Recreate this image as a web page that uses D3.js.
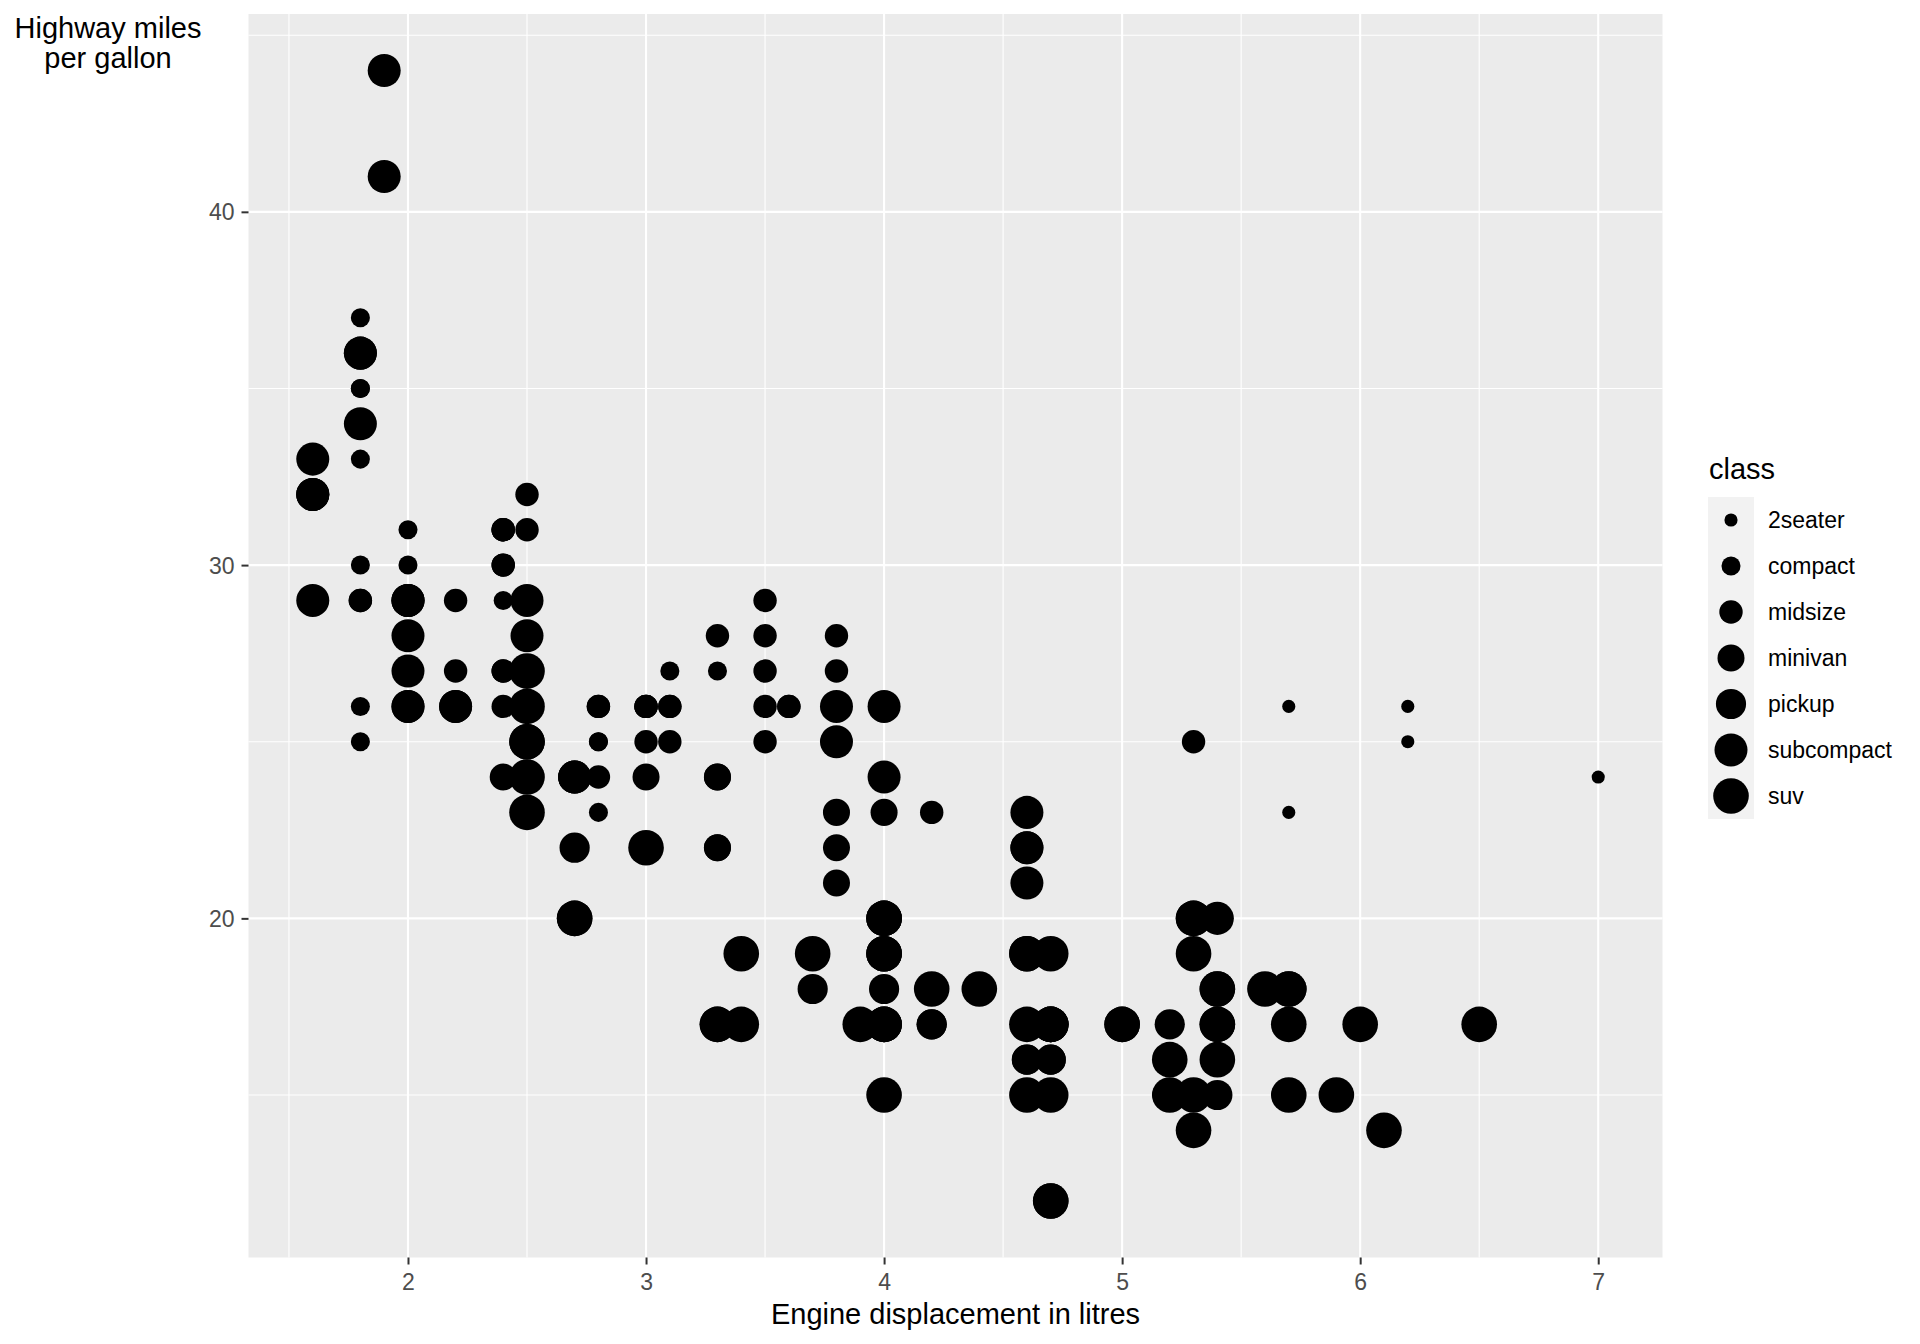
<!DOCTYPE html>
<html>
<head>
<meta charset="utf-8">
<script src="https://cdn.jsdelivr.net/npm/d3@7"></script>
<style>
  body { margin: 0; background: #fff; }
  svg { display: block; font-family: "Liberation Sans", Arial, sans-serif; }
</style>
</head>
<body>
<div id="wrapper"></div>
<script>
// mpg: engine displacement vs highway mpg, point size by class

const classes = ["2seater", "compact", "midsize", "minivan", "pickup", "subcompact", "suv"];

const displ = [
  1.8,1.8,2.0,2.0,2.8,2.8,3.1,1.8,1.8,2.0,2.0,2.8,2.8,3.1,3.1,2.8,3.1,4.2,
  5.3,5.3,5.3,5.7,6.0,5.7,5.7,6.2,6.2,7.0,5.3,5.3,5.7,6.5,2.4,2.4,3.1,3.5,3.6,
  2.4,3.0,3.3,3.3,3.3,3.3,3.3,3.8,3.8,3.8,4.0,
  3.7,3.7,3.9,3.9,4.7,4.7,4.7,5.2,5.2,3.9,4.7,4.7,4.7,5.2,5.2,5.9,
  4.7,4.7,4.7,4.7,4.7,4.7,5.2,5.2,5.9,5.9,4.6,5.4,5.4,4.0,4.0,4.0,4.0,4.6,5.0,
  4.2,4.2,4.6,4.6,4.6,5.4,5.4,3.8,3.8,4.0,4.0,4.6,4.6,4.6,4.6,5.4,
  1.6,1.6,1.6,1.6,1.6,1.8,1.8,1.8,2.0,2.4,2.4,2.4,2.4,2.5,2.5,3.3,
  2.0,2.0,2.0,2.0,2.7,2.7,2.7,3.0,3.7,4.0,4.7,4.7,4.7,5.7,6.1,
  4.0,4.2,4.4,4.6,5.4,5.4,5.4,4.0,4.0,4.6,5.0,2.4,2.4,2.5,2.5,3.5,3.5,
  3.0,3.0,3.5,3.3,3.3,4.0,5.6,3.1,3.8,3.8,3.8,5.3,2.5,2.5,2.5,2.5,2.5,2.5,
  2.2,2.2,2.5,2.5,2.5,2.5,2.5,2.5,2.7,2.7,3.4,3.4,4.0,4.7,2.2,2.2,2.4,2.4,3.0,3.0,3.5,
  2.2,2.2,2.4,2.4,3.0,3.0,3.3,1.8,1.8,1.8,1.8,1.8,4.7,5.7,2.7,2.7,2.7,3.4,3.4,4.0,4.0,
  2.0,2.0,2.0,2.0,2.8,1.9,2.0,2.0,2.0,2.0,2.5,2.5,2.8,2.8,1.9,1.9,2.0,2.0,2.5,2.5,
  1.8,1.8,2.0,2.0,2.8,2.8,3.6
];

const hwy = [
  29,29,31,30,26,26,27,26,25,28,27,25,25,25,25,24,25,23,
  20,15,20,17,17,26,23,26,25,24,19,14,15,17,27,30,26,29,26,
  24,24,22,22,24,24,17,22,21,23,23,
  19,18,17,17,19,19,12,17,15,17,17,12,17,16,15,15,
  16,12,17,17,16,12,15,16,15,15,17,17,18,17,19,17,19,19,17,
  17,17,16,16,17,15,17,26,25,26,24,21,22,23,22,20,
  33,32,32,29,32,34,36,36,29,26,27,30,31,26,26,28,
  26,29,28,27,24,24,24,22,19,20,17,12,19,18,14,
  15,18,18,15,17,16,18,17,19,19,17,29,27,31,32,27,26,
  26,25,25,17,17,20,18,26,26,27,28,25,25,24,27,25,26,23,
  26,26,26,26,25,27,25,27,20,20,19,17,20,17,29,27,31,31,26,26,28,
  27,29,31,31,26,26,27,30,33,35,37,35,15,18,20,20,22,17,19,18,20,
  29,26,29,29,24,44,29,26,29,29,29,29,23,24,44,41,29,26,28,29,
  29,29,28,29,26,26,26
];

// class index per row (0 = 2seater ... 6 = suv)
const cls = [
  1,1,1,1,1,1,1,1,1,1,1,1,1,1,1,2,2,2,
  6,6,6,6,6,0,0,0,0,0,6,6,6,6,2,2,2,2,2,
  3,3,3,3,3,3,3,3,3,3,3,
  4,4,4,4,4,4,4,4,4,6,6,6,6,6,6,6,
  4,4,4,4,4,4,4,4,4,4,6,6,6,6,6,6,6,6,6,
  4,4,4,4,4,4,4,5,5,5,5,5,5,5,5,5,
  5,5,5,5,5,5,5,5,5,2,2,2,2,2,2,2,
  5,5,5,5,5,5,5,6,6,6,6,6,6,6,6,
  6,6,6,6,6,6,6,6,6,6,6,1,1,2,2,2,2,
  2,2,2,6,6,6,6,2,2,2,2,2,6,6,6,6,6,6,
  5,5,5,5,1,1,1,1,6,6,6,6,6,6,2,2,2,2,2,2,2,
  1,1,1,1,1,1,1,1,1,1,1,1,6,6,4,4,4,4,4,4,4,
  1,1,1,1,1,1,1,1,1,1,1,1,1,1,5,5,5,5,5,5,
  2,2,2,2,2,2,2
];

const xTicks = [2, 3, 4, 5, 6, 7];
const xMinor = [1.5, 2.5, 3.5, 4.5, 5.5, 6.5];
const yTicks = [20, 30, 40];
const yMinor = [15, 25, 35, 45];

const xTitle = "Engine displacement in litres";
const yTitle = ["Highway miles", "per gallon"];
const legendTitle = "class";

// page geometry
const width = 1920;
const height = 1344;
const panel = { left: 248.5, right: 1662.5, top: 14, bottom: 1257.5 };
const pxPerPt = 29 / 11;

const rows = displ.map((d, i) => ({ displ: d, hwy: hwy[i], cls: classes[cls[i]] }));

// ggplot-like continuous expansion of 5%
const xExt = d3.extent(displ), yExt = d3.extent(hwy);
const xPad = (xExt[1] - xExt[0]) * 0.05, yPad = (yExt[1] - yExt[0]) * 0.05;

const x = d3.scaleLinear()
            .domain([xExt[0] - xPad, xExt[1] + xPad])
            .range([panel.left, panel.right]);
const y = d3.scaleLinear()
            .domain([yExt[0] - yPad, yExt[1] + yPad])
            .range([panel.bottom, panel.top]);

// size for discrete class: areas evenly spaced between size 2 and 6
const sizeScale = d3.scaleOrdinal()
                    .domain(classes)
                    .range(classes.map((c, i) => Math.sqrt(4 + i * (36 - 4) / (classes.length - 1))));
const radius = c => 0.375 * (sizeScale(c) * 72.27 / 25.4 + 0.5 * 96 / 25.4 / 2) * pxPerPt;

const svg = d3.select("#wrapper")
              .append("svg")
              .attr("width", width)
              .attr("height", height);

svg.append("rect")
   .attr("x", panel.left)
   .attr("y", panel.top)
   .attr("width", panel.right - panel.left)
   .attr("height", panel.bottom - panel.top)
   .attr("fill", "#EBEBEB");

// grid: minor first, then major
const grid = svg.append("g").attr("stroke", "#fff");
grid.selectAll(".xminor").data(xMinor).enter().append("line")
    .attr("x1", d => x(d)).attr("x2", d => x(d))
    .attr("y1", panel.top).attr("y2", panel.bottom)
    .attr("stroke-width", 1.1);
grid.selectAll(".yminor").data(yMinor).enter().append("line")
    .attr("y1", d => y(d)).attr("y2", d => y(d))
    .attr("x1", panel.left).attr("x2", panel.right)
    .attr("stroke-width", 1.1);
grid.selectAll(".xmajor").data(xTicks).enter().append("line")
    .attr("x1", d => x(d)).attr("x2", d => x(d))
    .attr("y1", panel.top).attr("y2", panel.bottom)
    .attr("stroke-width", 2.1);
grid.selectAll(".ymajor").data(yTicks).enter().append("line")
    .attr("y1", d => y(d)).attr("y2", d => y(d))
    .attr("x1", panel.left).attr("x2", panel.right)
    .attr("stroke-width", 2.1);

// points
svg.append("g")
   .selectAll("circle")
   .data(rows)
   .enter()
   .append("circle")
     .attr("cx", d => x(d.displ))
     .attr("cy", d => y(d.hwy))
     .attr("r", d => radius(d.cls))
     .attr("fill", "#000");

// axes
const xAxis = svg.append("g")
                 .attr("transform", "translate(0," + panel.bottom + ")")
                 .call(d3.axisBottom(x).tickValues(xTicks).tickSize(7).tickPadding(9).tickFormat(d3.format("d")));
const yAxis = svg.append("g")
                 .attr("transform", "translate(" + panel.left + ",0)")
                 .call(d3.axisLeft(y).tickValues(yTicks).tickSize(7).tickPadding(7).tickFormat(d3.format("d")));

[xAxis, yAxis].forEach(a => {
  a.select(".domain").remove();
  a.selectAll(".tick line").attr("stroke", "#333333").attr("stroke-width", 2);
  a.selectAll(".tick text")
   .attr("fill", "#4D4D4D")
   .style("font-size", "23px")
   .style("font-family", "'Liberation Sans', Arial, sans-serif");
});
yAxis.selectAll(".tick text").attr("dy", "0.35em");

// axis titles
svg.append("text")
   .attr("x", (panel.left + panel.right) / 2)
   .attr("y", 1324)
   .attr("text-anchor", "middle")
   .style("font-size", "29px")
   .text(xTitle);

svg.append("text")
   .attr("text-anchor", "middle")
   .style("font-size", "29px")
   .selectAll("tspan")
   .data(yTitle)
   .enter().append("tspan")
     .attr("x", 108)
     .attr("y", (d, i) => 38 + i * 30)
     .text(d => d);

// legend
const legend = svg.append("g").attr("transform", "translate(1708,1)");
const keyH = 46;
const keyTop = 496;

legend.append("text")
      .attr("x", 1)
      .attr("y", 478)
      .style("font-size", "29px")
      .text(legendTitle);

legend.append("rect")
      .attr("x", 0)
      .attr("y", keyTop)
      .attr("width", 46)
      .attr("height", keyH * classes.length)
      .attr("fill", "#F2F2F2");

const keys = legend.selectAll(".key")
                   .data(classes)
                   .enter().append("g")
                   .attr("class", "key")
                   .attr("transform", (d, i) => "translate(0," + (keyTop + keyH * i + keyH / 2) + ")");

keys.append("circle")
    .attr("cx", 23)
    .attr("cy", 0)
    .attr("r", d => radius(d))
    .attr("fill", "#000");

keys.append("text")
    .attr("x", 60)
    .attr("y", 8)
    .style("font-size", "23px")
    .text(d => d);
</script>
</body>
</html>
